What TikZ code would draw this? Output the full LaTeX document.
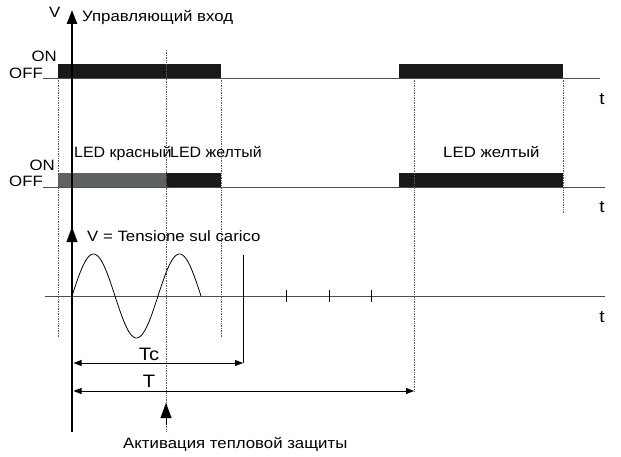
\documentclass[tikz,border=0pt]{standalone}
\usepackage{fontspec}
\setmainfont{Liberation Sans}[FakeStretch=1.12]
\usetikzlibrary{arrows.meta}
\begin{document}
\begin{tikzpicture}[x=1pt,y=-1pt,
  font=\fontsize{15}{17}\selectfont,
  baseln/.style={draw=black!70, line width=0.8pt},
  dots/.style={densely dotted, line width=0.7pt, draw=black!65},
  barblack/.style={fill=black!90, draw=none},
  bargrey/.style={fill={rgb,255:red,94;green,98;blue,96}, draw=none},
  mainaxis/.style={line width=2.6pt},
  dimarrow/.style={line width=0.8pt, {Triangle[length=8pt,width=6pt]}-{Triangle[length=8pt,width=6pt]}},
  lbl/.style={inner sep=0pt, anchor=base west},
  lble/.style={inner sep=0pt, anchor=base east},
  lblc/.style={inner sep=0pt, anchor=base},
  biglbl/.style={inner sep=0pt, anchor=base, font=\fontsize{18}{20}\selectfont},
  tlbl/.style={inner sep=0pt, anchor=base, font=\fontsize{17}{19}\selectfont},
]
\useasboundingbox (0,0) rectangle (621,457);

% coordinates
\coordinate (axtop) at (72,10);
\coordinate (axbot) at (72,432);
\coordinate (axm1) at (72,250);
\coordinate (axm2) at (72,227);

% baselines
\coordinate (b1l) at (43,78);  \coordinate (b1r) at (600,78);
\coordinate (b2l) at (43,187); \coordinate (b2r) at (605,187);
\coordinate (b3l) at (45,296); \coordinate (b3r) at (605,296);
\draw[baseln] (b1l) -- (b1r);
\draw[baseln] (b2l) -- (b2r);
\draw[baseln] (b3l) -- (b3r);

% bars
\fill[barblack] (58,64) rectangle (221,78);
\fill[barblack] (399,64) rectangle (563,78);
\fill[bargrey] (58,173) rectangle (166,187);
\fill[barblack] (166,173) rectangle (221,187);
\fill[barblack] (399,173) rectangle (563,187);

% dotted guides
\coordinate (d1a) at (58.5,78);  \coordinate (d1b) at (58.5,337);
\coordinate (d2a) at (166,50);   \coordinate (d2b) at (166,432);
\coordinate (d3a) at (221,78);   \coordinate (d3b) at (221,337);
\coordinate (d4a) at (414,78);   \coordinate (d4b) at (414,391);
\coordinate (d5a) at (563,78);   \coordinate (d5b) at (563,213);
\draw[dots] (d1a) -- (d1b);
\draw[dots] (d2a) -- (d2b);
\draw[dots] (d3a) -- (d3b);
\draw[dots] (d4a) -- (d4b);
\draw[dots] (d5a) -- (d5b);

% main axis
\draw[mainaxis, -{Triangle[length=14pt,width=10pt]}] (axbot) -- (axtop);
\draw[line width=0.1pt, -{Triangle[length=15pt,width=11pt]}] (axm1) -- (axm2);

% activation arrow
\coordinate (actb) at (166,425);
\coordinate (actt) at (166,403);
\draw[line width=0.1pt, -{Triangle[length=15pt,width=11pt]}] (actb) -- (actt);

% sine
\draw[line width=0.8pt] plot[domain=0:129,samples=150,smooth] ({72+\x},{296-42*sin(4.18605*\x)});

% ticks
\foreach \tx/\nm in {286/k1,329/k2,371/k3}{
  \coordinate (\nm a) at (\tx,290);
  \coordinate (\nm b) at (\tx,302);
  \draw[line width=0.8pt] (\nm a) -- (\nm b);
}

% Tc end line
\coordinate (tct) at (243,255);
\coordinate (tcb) at (243,363);
\draw[line width=0.8pt] (tct) -- (tcb);

% dimension arrows
\coordinate (tcl) at (73.5,363);
\coordinate (tl) at (73.5,391);
\coordinate (tr) at (414,391);
\draw[dimarrow] (tcl) -- (tcb);
\draw[dimarrow] (tl) -- (tr);

% labels
\node[lbl] (vlab) at (49,18) {V};
\node[lbl] (ctrl) at (82,22) {Управляющий вход};
\node[lble] (on1) at (57,62) {ON};
\node[lble] (off1) at (43,79) {OFF};
\node[lble] (on2) at (55,171) {ON};
\node[lble] (off2) at (43,187) {OFF};
\node[lbl] (ledr) at (74,158) {\scalebox{0.95}[1]{LED красный}};
\node[lbl] (ledy1) at (170,158) {\scalebox{0.95}[1]{LED желтый}};
\node[lbl] (ledy2) at (443,158) {LED желтый};
\node[tlbl] (t1) at (602,105) {t};
\node[tlbl] (t2) at (602,213) {t};
\node[tlbl] (t3) at (602,322) {t};
\node[lbl] (vload) at (87,241) {V = Tensione sul carico};
\node[biglbl] (tc) at (149,360) {Tc};
\node[biglbl] (tt) at (149,387) {T};
\node[lbl] (act) at (123,448) {Активация тепловой защиты};
\end{tikzpicture}
\end{document}
